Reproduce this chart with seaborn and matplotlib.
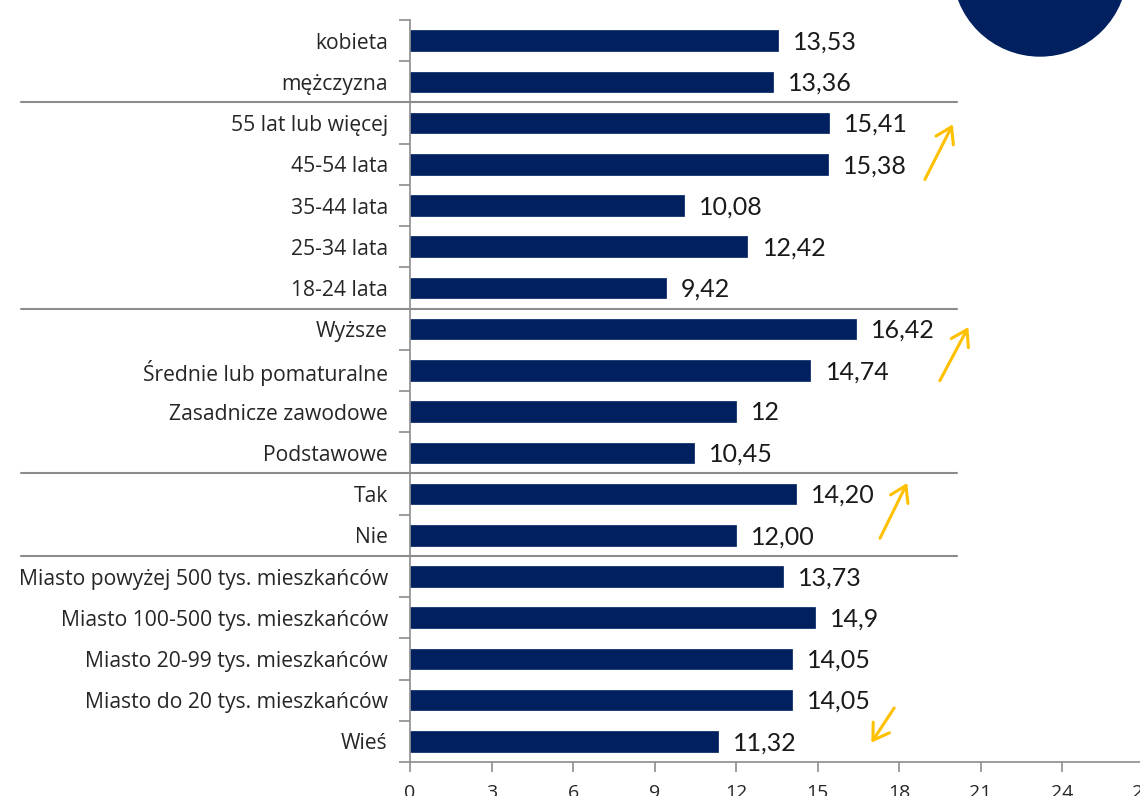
import matplotlib
matplotlib.use("Agg")
import matplotlib.pyplot as plt
from matplotlib.patches import Ellipse
from matplotlib.transforms import blended_transform_factory
import seaborn as sns
import pandas as pd

# Respondent groups (top to bottom) and the average value shown for each
categories = [
    "kobieta", "mężczyzna",
    "55 lat lub więcej", "45-54 lata", "35-44 lata", "25-34 lata", "18-24 lata",
    "Wyższe", "Średnie lub pomaturalne", "Zasadnicze zawodowe", "Podstawowe",
    "Tak", "Nie",
    "Miasto powyżej 500 tys. mieszkańców", "Miasto 100-500 tys. mieszkańców",
    "Miasto 20-99 tys. mieszkańców", "Miasto do 20 tys. mieszkańców", "Wieś",
]
value_labels = [
    "13,53", "13,36",
    "15,41", "15,38", "10,08", "12,42", "9,42",
    "16,42", "14,74", "12", "10,45",
    "14,20", "12,00",
    "13,73", "14,9", "14,05", "14,05", "11,32",
]
values = [float(s.replace(",", ".")) for s in value_labels]

# Index of the last row in each group (a separator is drawn below it)
group_ends = [1, 6, 10, 12]
x_ticks = list(range(0, 28, 3))

NAVY = "#002060"
GOLD = "#FFC000"
GRID_GRAY = "#8C8C8C"
TEXT = "#262626"

sns.set_theme(style="white")
plt.rcParams["font.family"] = ["Open Sans", "DejaVu Sans"]

W, H = 1140, 796
fig = plt.figure(figsize=(W / 100, H / 100), dpi=100)
ax = fig.add_axes([410 / W, 34 / H, (27 * 27.17) / W, (762 - 20) / H])

df = pd.DataFrame({"grupa": categories, "wartosc": values})
sns.barplot(data=df, x="wartosc", y="grupa", orient="h", color=NAVY,
            width=0.5, saturation=1, ax=ax, edgecolor=NAVY, linewidth=0.5)

ax.set_xlim(0, 27)
ax.set_ylim(len(categories) - 0.5, -0.5)
ax.set_xlabel("")
ax.set_ylabel("")

for side in ["top", "right"]:
    ax.spines[side].set_visible(False)
for side in ["left", "bottom"]:
    ax.spines[side].set_color(GRID_GRAY)
    ax.spines[side].set_linewidth(1.2)

# Category ticks: labels at bar centres, tick marks at row boundaries
ax.set_yticks(range(len(categories)))
ax.set_yticklabels(categories, fontsize=15.2, color=TEXT)
ax.set_yticks([i - 0.5 for i in range(len(categories) + 1)], minor=True)
ax.tick_params(axis="y", which="major", length=0, pad=16)
ax.tick_params(axis="y", which="minor", length=8, width=1.2, color=GRID_GRAY,
               direction="out", left=True)

ax.set_xticks(x_ticks)
ax.set_xticklabels([str(t) for t in x_ticks], fontsize=14, color=TEXT)
ax.tick_params(axis="x", which="major", length=7, width=1.2, color=GRID_GRAY,
               direction="out", bottom=True, pad=9)

# Value labels to the right of each bar
for i, (v, lab) in enumerate(zip(values, value_labels)):
    ax.annotate(lab, xy=(v, i), xytext=(11, -1), textcoords="offset points",
                ha="left", va="center", fontsize=18, color="#1a1a1a",
                family=["Lato", "DejaVu Sans"], fontweight="normal")

# Horizontal separators between the respondent groups
sep_tr = blended_transform_factory(fig.transFigure, ax.transData)
for g in group_ends:
    ax.plot([21 / W, 957 / W], [g + 0.5, g + 0.5], transform=sep_tr,
            color=GRID_GRAY, lw=1.5, clip_on=False, zorder=5)

# Trend arrows (start -> end, in value units / row units)
arrows = [
    ((18.95, 3.37), (19.98, 2.03)),
    ((19.50, 8.25), (20.55, 6.95)),
    ((17.30, 12.07), (18.30, 10.73)),
    ((17.82, 16.19), (16.98, 17.03)),
]
for (x0, y0), (x1, y1) in arrows:
    ax.annotate("", xy=(x1, y1), xytext=(x0, y0),
                arrowprops=dict(arrowstyle="->,head_length=0.55,head_width=0.35",
                                color=GOLD, lw=2.2, mutation_scale=20,
                                shrinkA=0, shrinkB=0),
                annotation_clip=False)

# Decorative circle in the top-right corner
fig.patches.append(Ellipse((1040 / W, (H + 31) / H), 174 / W, 174 / H,
                           transform=fig.transFigure, color=NAVY, zorder=10))

fig.savefig("out.png", dpi=100)
